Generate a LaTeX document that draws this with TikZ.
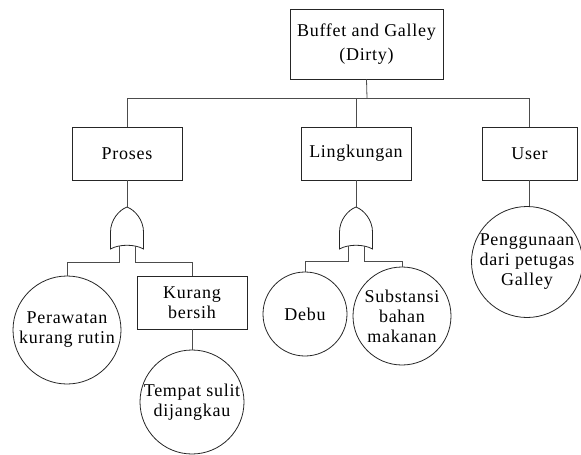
\documentclass[tikz,border=0pt]{standalone}
\usepackage{fontspec}
\setmainfont[LetterSpace=4]{Liberation Serif}
\begin{document}
\begin{tikzpicture}[x=1pt,y=-1pt,
  font=\fontsize{18}{20}\selectfont,
  wire/.style={draw=black!70,line width=0.8pt},
  event/.style={draw=black!85,line width=0.8pt,rectangle,inner sep=0pt,align=center,minimum height=53pt},
  basic/.style={draw=black!85,line width=0.8pt,circle,inner sep=0pt,align=center},
  pics/orgate/.style={code={
    \draw[draw=black!85,line width=0.8pt]
      (-16.5,42) -- (-16.5,25)
      .. controls (-16.5,13) and (-8,3) .. (0,0)
      .. controls (8,3) and (16.5,13) .. (16.5,25)
      -- (16.5,42)
      .. controls (8,37) and (-8,37) .. cycle;
    \coordinate (-top) at (0,0);
    \coordinate (-a) at (-8,39);
    \coordinate (-b) at (8,39);
  }}]
\useasboundingbox (0,0) rectangle (581,455);

% top event
\node[event,minimum width=153pt,minimum height=70pt,font=\fontsize{18}{24}\selectfont]
  (top) at (366.5,44) {Buffet and Galley\\(Dirty)};

% intermediate events
\node[event,minimum width=110pt] (proses) at (127,153.5) {Proses};
\node[event,minimum width=110pt] (ling) at (356,153.5) {Lingkungan};
\node[event,minimum width=95pt] (user) at (529.5,153.5) {User};
\node[event,minimum width=110pt] (kurang) at (192,302.5) {Kurang\\bersih};

% gates
\pic (g1) at (127,207) {orgate};
\pic (g2) at (356,207) {orgate};

% basic events
\node[basic,minimum size=108pt] (rawat) at (67,330) {Perawatan\\kurang rutin};
\node[basic,minimum size=104pt] (tempat) at (192,402) {Tempat sulit\\dijangkau};
\node[basic,minimum size=84pt] (debu) at (305,314) {Debu};
\node[basic,minimum size=98pt] (subst) at (402,316) {Substansi\\bahan\\makanan};
\node[basic,minimum size=111pt] (guna) at (527,262) {Penggunaan\\dari petugas\\Galley};

% connectors
\coordinate (bus) at (367,98);
\draw[wire] (top.south) -- (bus);
\draw[wire] (proses.north) |- (bus);
\draw[wire] (user.north) |- (bus);
\draw[wire] (ling.north) -- (ling.north |- bus);

\draw[wire] (proses.south) -- (g1-top);
\draw[wire] (g1-a) -- ++(0,16) -| (rawat.north);
\draw[wire] (g1-b) -- ++(0,16) -| (kurang.north);
\draw[wire] (kurang.south) -- (tempat.north);

\draw[wire] (ling.south) -- (g2-top);
\draw[wire] (g2-a) -- ++(0,15) -| (debu.north);
\draw[wire] (g2-b) -- ++(0,15) -| (subst.north);

\draw[wire] (user.south) -- (user.south |- guna.north);
\end{tikzpicture}
\end{document}
